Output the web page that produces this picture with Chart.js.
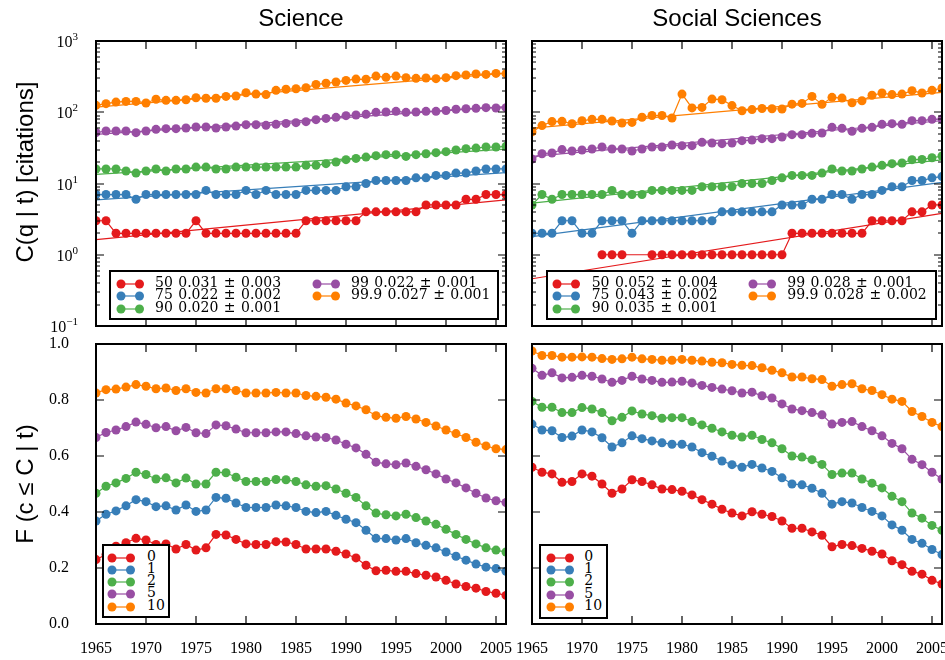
<!DOCTYPE html>
<html>
<head>
<meta charset="utf-8">
<script src="https://cdn.jsdelivr.net/npm/chart.js@4.4.1/dist/chart.umd.min.js"></script>
<style>
html,body{margin:0;padding:0;background:#fff;}
#wrap{position:relative;width:945px;height:660px;overflow:hidden;background:#fff;}
canvas{position:absolute;left:0;top:0;}
.title{position:absolute;font-family:"Liberation Sans",Arial,sans-serif;font-size:24px;line-height:24px;white-space:nowrap;transform:translateX(-50%);color:#000;z-index:5;}
.ylab{position:absolute;font-family:"Liberation Sans",Arial,sans-serif;font-size:24px;line-height:24px;white-space:nowrap;transform:translate(-50%,-50%) rotate(-90deg);color:#000;z-index:5;}
.legend{position:absolute;background:#fff;border:2px solid #000;box-sizing:border-box;z-index:6;}
.lkey{position:absolute;z-index:7;}
.ltext{position:absolute;font-family:"DejaVu Serif",serif;font-size:14px;line-height:14px;white-space:nowrap;word-spacing:1px;color:#000;z-index:7;}
</style>
</head>
<body>
<div id="wrap">
  <canvas id="cTL" width="1000" height="660"></canvas>
  <canvas id="cTR" width="1000" height="660"></canvas>
  <canvas id="cBL" width="1000" height="660"></canvas>
  <canvas id="cBR" width="1000" height="660"></canvas>
  <div class="title" style="left:301px;top:6px;">Science</div>
  <div class="title" style="left:737px;top:6px;">Social Sciences</div>
  <div class="ylab" style="left:24.5px;top:172px;">C(q | t) [citations]</div>
  <div class="ylab" style="left:24.5px;top:484px;">F (c ≤ C | t)</div>
</div>
<script>
// ---------------- data ----------------
const years = [1965,1966,1967,1968,1969,1970,1971,1972,1973,1974,1975,1976,1977,1978,1979,1980,1981,1982,1983,1984,1985,1986,1987,1988,1989,1990,1991,1992,1993,1994,1995,1996,1997,1998,1999,2000,2001,2002,2003,2004,2005,2006];
const xTickYears = [1965,1970,1975,1980,1985,1990,1995,2000,2005];
const xTickLabels = ['1965','1970','1975','1980','1985','1990','1995','2000','2005'];
const logTickValues = [0.1,1,10,100,1000];
const logTickBase = '10';
const logTickExps = ['\u22121','0','1','2','3'];
const fracTickValues = [0,0.2,0.4,0.6,0.8,1.0];
const fracTickLabels = ['0.0','0.2','0.4','0.6','0.8','1.0'];

const quantiles = ['50','75','90','99','99.9'];
const sciRates = ['0.031','0.022','0.020','0.022','0.027'];
const sciErrs  = ['0.003','0.002','0.001','0.001','0.001'];
const socRates = ['0.052','0.043','0.035','0.028','0.028'];
const socErrs  = ['0.004','0.002','0.001','0.001','0.002'];
const thresholds = ['0','1','2','5','10'];

// Science: citation quantiles C(q|t)
const sciC50  = [3,3,2,2,2,2,2,2,2,2,3,2,2,2,2,2,2,2,2,2,2,3,3,3,3,3,3,4,4,4,4,4,4,5,5,5,5,6,6,7,7,7];
const sciC75  = [7,7,7,7,6,7,7,7,7,7,7,8,7,7,7,8,7,8,7,7,7,8,8,8,8,9,9,10,11,11,11,11,12,12,13,13,14,14,15,16,16,16];
const sciC90  = [16,16,16,15,14,15,16,15,16,16,17,17,16,16,17,17,17,17,17,17,17,18,18,19,20,21.6,22.5,23.5,24.6,25.4,25.4,24,25.4,26.2,27.1,28,29.5,30.8,31.4,32.5,32.5,33.2];
const sciC99  = [52,54.5,54.5,54.5,51.7,54.5,57.5,58.9,58.9,60,62,62,60,62,64,67,67,65.5,67.6,69.8,71.4,73.8,78.7,82,84.8,89.5,91.4,93.5,99.7,100.7,103,99.7,100.7,103,103,106,110,112,113.5,116,114.6,116];
const sciC999 = [125,132,139,142,142,135,152,147,147,150,160,157,157,167,169,188,180,177,203,210,214,221,246,255,266,280,292,290,322,309,322,306,299,302,296,306,326,333,344,340,351,348];
const sciFitStart = [1.63,5.9,13.4,49,118];
const sciFitEnd   = [5.9,14.2,30.4,120,355];

// Social Sciences: citation quantiles C(q|t)
const socC50  = [null,null,null,null,null,null,null,1,1,1,null,null,1,1,1,1,1,1,1,1,1,1,1,1,1,1,2,2,2,2,2,2,2,2,3,3,3,3,4,4,5,5];
const socC75  = [2,2,2,3,3,2,2,3,3,3,2,3,3,3,3,3,3,3,3,4,4,4,4,4,4,5,5,5,6,6,7,7,6,7,7,8,9,9,11,11,12,12.5];
const socC90  = [5,7,6,7,7,7,7,7,8,7,7,7,8,8,8,8,8,9,9,9,9,10,10,10,11,12,13,13,13,14,16,15,15,16,17,18,19,19.4,21.6,21.8,23,24.3];
const socC99  = [22,26.2,26.8,29.9,28.6,29.5,30.5,32.5,30.5,30.5,28.6,30.5,32.5,32.5,34.7,34,34,37.8,37,36.2,37,39.9,40.7,42.6,42.6,44.9,48.5,48.5,50.6,51.1,61.4,59.4,54,59.4,61.4,67.6,69.2,67.6,76.2,76.2,79.5,80.3];
const socC999 = [53,65,74,74.5,69,76,79.5,79.5,75.4,70.6,72,85,90,90,83,180,115,117,153,150,124,105,109,113,112,111,130,133,167,129,162,158,136,145,173,186,177,180,201,186,203,219];
const socFitStart = [0.46,1.8,5.3,24,60];
const socFitEnd   = [3.8,10.4,21.5,76,190];

// Science: fraction F(c <= C | t)
const sciF0  = [0.230,0.248,0.278,0.290,0.306,0.300,0.284,0.286,0.268,0.284,0.264,0.272,0.320,0.318,0.302,0.286,0.284,0.284,0.294,0.293,0.284,0.268,0.268,0.268,0.260,0.250,0.236,0.210,0.190,0.192,0.188,0.188,0.180,0.174,0.168,0.156,0.143,0.134,0.128,0.116,0.110,0.102];
const sciF1  = [0.368,0.392,0.404,0.422,0.444,0.437,0.419,0.422,0.407,0.425,0.402,0.407,0.452,0.449,0.432,0.416,0.416,0.416,0.425,0.422,0.416,0.402,0.398,0.402,0.388,0.374,0.362,0.335,0.306,0.305,0.300,0.305,0.290,0.281,0.272,0.257,0.242,0.228,0.214,0.203,0.198,0.188];
const sciF2  = [0.467,0.492,0.504,0.520,0.542,0.534,0.518,0.522,0.504,0.521,0.500,0.500,0.542,0.540,0.524,0.509,0.509,0.509,0.516,0.515,0.509,0.497,0.492,0.494,0.482,0.467,0.452,0.422,0.396,0.390,0.386,0.392,0.380,0.368,0.356,0.338,0.320,0.302,0.286,0.272,0.264,0.257];
const sciF5  = [0.666,0.684,0.693,0.705,0.721,0.713,0.701,0.705,0.690,0.702,0.683,0.680,0.711,0.708,0.696,0.683,0.683,0.683,0.686,0.686,0.680,0.672,0.668,0.666,0.657,0.642,0.629,0.606,0.578,0.572,0.569,0.575,0.563,0.551,0.536,0.518,0.504,0.486,0.467,0.450,0.440,0.434];
const sciF10 = [0.825,0.837,0.839,0.846,0.855,0.849,0.840,0.843,0.834,0.840,0.827,0.825,0.840,0.840,0.834,0.825,0.825,0.825,0.827,0.825,0.825,0.816,0.813,0.810,0.803,0.789,0.779,0.765,0.744,0.738,0.735,0.741,0.732,0.720,0.707,0.693,0.680,0.666,0.649,0.636,0.626,0.623];

// Social Sciences: fraction F(c <= C | t)
const socF0  = [0.560,0.542,0.536,0.506,0.509,0.536,0.528,0.500,0.467,0.482,0.515,0.509,0.497,0.482,0.480,0.474,0.461,0.444,0.428,0.410,0.396,0.386,0.401,0.392,0.384,0.368,0.342,0.342,0.329,0.317,0.276,0.284,0.280,0.270,0.260,0.250,0.226,0.212,0.188,0.178,0.156,0.143];
const socF1  = [0.714,0.693,0.690,0.666,0.671,0.693,0.686,0.665,0.632,0.647,0.672,0.662,0.654,0.647,0.642,0.642,0.632,0.612,0.599,0.582,0.569,0.560,0.570,0.557,0.545,0.522,0.500,0.497,0.485,0.467,0.428,0.437,0.432,0.416,0.402,0.386,0.354,0.335,0.302,0.288,0.266,0.248];
const socF2  = [0.795,0.774,0.774,0.755,0.755,0.773,0.768,0.755,0.726,0.738,0.761,0.750,0.744,0.735,0.737,0.737,0.723,0.711,0.699,0.686,0.674,0.668,0.674,0.659,0.647,0.626,0.600,0.596,0.587,0.570,0.534,0.539,0.539,0.518,0.503,0.486,0.456,0.437,0.396,0.378,0.352,0.335];
const socF5  = [0.913,0.888,0.897,0.879,0.881,0.888,0.885,0.875,0.863,0.870,0.885,0.875,0.870,0.863,0.864,0.867,0.861,0.852,0.845,0.839,0.833,0.825,0.828,0.815,0.807,0.786,0.768,0.762,0.755,0.747,0.714,0.720,0.723,0.705,0.690,0.672,0.645,0.626,0.588,0.569,0.542,0.518];
const socF10 = [0.975,0.959,0.959,0.953,0.953,0.954,0.953,0.948,0.945,0.947,0.953,0.947,0.945,0.942,0.942,0.945,0.942,0.939,0.935,0.933,0.927,0.924,0.923,0.915,0.906,0.897,0.882,0.882,0.876,0.873,0.849,0.855,0.858,0.840,0.834,0.819,0.803,0.795,0.759,0.741,0.720,0.705];

// ---------------- styles ----------------
const colors = ['#e41a1c','#377eb8','#4daf4a','#984ea3','#ff7f00'];
const serif = "'Liberation Serif', 'DejaVu Serif', serif";
const tickFont = {family:serif, size:16};

// frame + inward ticks (matplotlib style) + power-of-ten labels
const framePlugin = {
  id:'frame',
  afterDatasetsDraw(chart, args, opts){
    const ctx = chart.ctx, a = chart.chartArea, xs = chart.scales.x, ys = chart.scales.y;
    ctx.save();
    ctx.strokeStyle = '#000';
    ctx.lineWidth = 1.2;
    ctx.beginPath();
    const seg = (x1,y1,x2,y2)=>{ctx.moveTo(x1,y1);ctx.lineTo(x2,y2);};
    xTickYears.forEach(v=>{
      const p = Math.round(xs.getPixelForValue(v));
      if (p <= a.left+1 || p >= a.right-1) return;
      seg(p,a.top,p,a.top+8); seg(p,a.bottom,p,a.bottom-8);
    });
    const majors = opts.log ? logTickValues : fracTickValues;
    majors.forEach(v=>{
      const p = Math.round(ys.getPixelForValue(v));
      if (p <= a.top+1 || p >= a.bottom-1) return;
      seg(a.left,p,a.left+8,p); seg(a.right,p,a.right-8,p);
    });
    if (opts.log){
      for (let d=0; d<logTickValues.length-1; d++){
        for (let m=2; m<=9; m++){
          const p = Math.round(ys.getPixelForValue(logTickValues[d]*m));
          seg(a.left,p,a.left+4,p); seg(a.right,p,a.right-4,p);
        }
      }
    }
    ctx.stroke();
    ctx.lineWidth = 2;
    ctx.strokeRect(a.left, a.top, a.right-a.left, a.bottom-a.top);
    if (opts.powLabels){
      ctx.fillStyle = '#000';
      ctx.textBaseline = 'alphabetic';
      const right = a.left - 18;
      logTickValues.forEach((v,i)=>{
        const p = ys.getPixelForValue(v);
        ctx.font = '11px ' + serif;
        const ew = ctx.measureText(logTickExps[i]).width;
        ctx.textAlign = 'left';
        ctx.fillText(logTickExps[i], right - ew, p - 1);
        ctx.font = '16px ' + serif;
        ctx.textAlign = 'right';
        ctx.fillText(logTickBase, right - ew, p + 6);
      });
    }
    ctx.restore();
  }
};

function buildDatasets(series, fitStart, fitEnd){
  const ds = [];
  series.forEach((vals,i)=>{
    ds.push({
      data: years.map((yr,k)=>({x:yr, y:vals[k]})),
      borderColor: colors[i], backgroundColor: colors[i],
      pointBackgroundColor: colors[i], pointBorderColor: colors[i],
      pointBorderWidth:0, pointRadius:4.5, borderWidth:1.2,
      spanGaps:true, clip:0, order: 20 - i
    });
  });
  if (fitStart){
    series.forEach((_,i)=>{
      ds.push({
        data:[{x:years[0], y:fitStart[i]},{x:years[years.length-1], y:fitEnd[i]}],
        borderColor: colors[i], borderWidth:1.2, pointRadius:0, clip:0, order: 5 - i
      });
    });
  }
  return ds;
}

function panel(id, datasets, o){
  const xScale = {
    type:'linear', min:1965, max:2006, display:o.showX,
    grid:{display:false}, border:{display:false},
    afterBuildTicks: s=>{ s.ticks = xTickYears.map(v=>({value:v})); },
    ticks:{color:'#000', font:tickFont, padding:7, maxRotation:0, minRotation:0, autoSkip:false,
           callback:(v,i)=>xTickLabels[i]}
  };
  if (o.showX) xScale.afterFit = s=>{ s.height = 30; };
  const yScale = o.log ? {
    type:'logarithmic', min:0.1, max:1000, display:o.showY,
    grid:{display:false}, border:{display:false},
    afterBuildTicks: s=>{ s.ticks = logTickValues.map(v=>({value:v})); },
    ticks:{display:false}
  } : {
    type:'linear', min:0, max:1, display:o.showY,
    grid:{display:false}, border:{display:false},
    afterBuildTicks: s=>{ s.ticks = fracTickValues.map(v=>({value:v})); },
    ticks:{color:'#000', font:tickFont, padding:19, autoSkip:false, callback:(v,i)=>fracTickLabels[i]}
  };
  if (o.showY) yScale.afterFit = s=>{ s.width = 50; };
  return new Chart(document.getElementById(id), {
    type:'line',
    data:{datasets},
    options:{
      responsive:false, animation:false, events:[], devicePixelRatio:1,
      layout:{padding:o.pad},
      plugins:{legend:{display:false}, tooltip:{enabled:false}, frame:{log:o.log, powLabels:o.log && o.showY}},
      scales:{x:xScale, y:yScale}
    },
    plugins:[framePlugin]
  });
}

panel('cTL', buildDatasets([sciC50,sciC75,sciC90,sciC99,sciC999], sciFitStart, sciFitEnd),
      {log:true, showX:false, showY:true, pad:{left:46, top:41, right:494, bottom:334}});
panel('cTR', buildDatasets([socC50,socC75,socC90,socC99,socC999], socFitStart, socFitEnd),
      {log:true, showX:false, showY:false, pad:{left:532, top:41, right:58, bottom:334}});
panel('cBL', buildDatasets([sciF0,sciF1,sciF2,sciF5,sciF10]),
      {log:false, showX:true, showY:true, pad:{left:46, top:344, right:494, bottom:6}});
panel('cBR', buildDatasets([socF0,socF1,socF2,socF5,socF10]),
      {log:false, showX:true, showY:false, pad:{left:532, top:344, right:58, bottom:6}});

// ---------------- legends (HTML) ----------------
const wrap = document.getElementById('wrap');
function keySvg(color){
  return '<svg width="30" height="12" xmlns="http://www.w3.org/2000/svg">' +
    '<line x1="5" y1="6" x2="23.5" y2="6" stroke="'+color+'" stroke-width="1.2"/>' +
    '<circle cx="5" cy="6" r="4.5" fill="'+color+'"/>' +
    '<circle cx="23.5" cy="6" r="4.5" fill="'+color+'"/></svg>';
}
function addLegend(box, cols, rows, texts){
  const b = document.createElement('div');
  b.className = 'legend';
  b.style.left = box.left+'px'; b.style.top = box.top+'px';
  b.style.width = box.width+'px'; b.style.height = box.height+'px';
  wrap.appendChild(b);
  texts.forEach((t,i)=>{
    const c = cols[Math.floor(i/rows.length)], r = rows[i%rows.length];
    const k = document.createElement('div');
    k.className = 'lkey';
    k.style.left = (c.dot-5)+'px'; k.style.top = (r-6)+'px';
    k.innerHTML = keySvg(colors[i]);
    wrap.appendChild(k);
    const s = document.createElement('div');
    s.className = 'ltext';
    s.style.left = c.text+'px'; s.style.top = (r-7)+'px';
    s.textContent = t;
    wrap.appendChild(s);
  });
}
addLegend({left:109, top:270, width:390, height:50},
  [{dot:120.5, text:155},{dot:316.5, text:351}], [281.7,293.7,307],
  quantiles.map((q,i)=>q+' '+sciRates[i]+' \u00B1 '+sciErrs[i]));
addLegend({left:546, top:270, width:391, height:50},
  [{dot:557.3, text:591.7},{dot:752.7, text:787.3}], [281.7,293.7,307],
  quantiles.map((q,i)=>q+' '+socRates[i]+' \u00B1 '+socErrs[i]));
addLegend({left:102, top:544, width:68, height:74},
  [{dot:112, text:147}], [556.2,568,579.8,592.1,604.5], thresholds);
addLegend({left:539, top:543.5, width:69, height:75},
  [{dot:551, text:584.3}], [555.5,568,580.3,593,605.3], thresholds);
</script>
</body>
</html>
